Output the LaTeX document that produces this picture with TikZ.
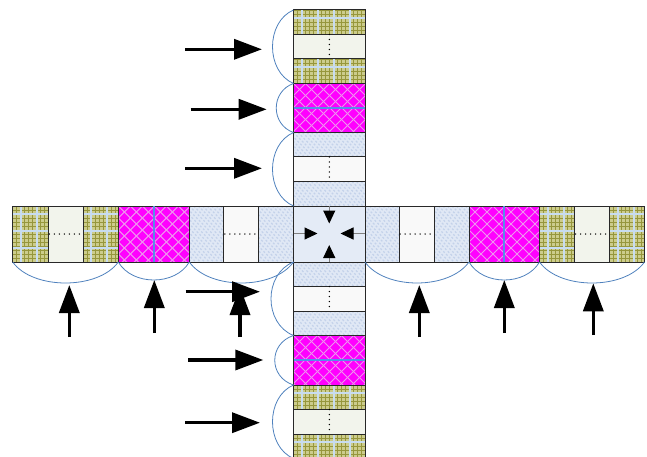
\documentclass[tikz,border=0pt]{standalone}
\usetikzlibrary{arrows.meta}
\definecolor{plaidbase}{RGB}{204,204,140}
\definecolor{plaiddark}{RGB}{150,150,60}
\definecolor{plaidlight}{RGB}{200,220,240}
\definecolor{magbase}{RGB}{255,0,255}
\definecolor{magline}{RGB}{238,150,238}
\definecolor{bluebase}{RGB}{224,232,245}
\definecolor{blueline}{RGB}{196,210,234}
\definecolor{dotfillA}{RGB}{242,244,236}
\definecolor{dotfillB}{RGB}{249,249,249}
\definecolor{centerfill}{RGB}{228,235,246}
\definecolor{bracecol}{RGB}{79,129,189}
\definecolor{midline}{RGB}{90,140,230}
\definecolor{edgecol}{RGB}{40,40,40}
\newcommand\mypatplaid{%
  \foreach \k in {0,...,20} {
    \draw[plaiddark,line width=0.5pt] ([xshift=\k*4pt]path picture bounding box.north west) -- ([xshift=\k*4pt]path picture bounding box.south west);
    \draw[plaiddark,line width=0.5pt] ([yshift=-\k*4pt]path picture bounding box.north west) -- ([yshift=-\k*4pt]path picture bounding box.north east);
  }
  \foreach \k in {0,...,4} {
    \draw[plaidlight,line width=2pt] ([xshift=8pt+\k*16pt]path picture bounding box.north west) -- ([xshift=8pt+\k*16pt]path picture bounding box.south west);
    \draw[plaidlight,line width=2pt] ([yshift=-8pt-\k*17pt]path picture bounding box.north west) -- ([yshift=-8pt-\k*17pt]path picture bounding box.north east);
  }}
\newcommand\mypatmag{%
  \foreach \k in {-7,...,13} {
    \draw[magline,line width=1pt] ([xshift=\k*12pt]path picture bounding box.north west) -- ++(90pt,-90pt);
    \draw[magline,line width=1pt] ([xshift=\k*12pt]path picture bounding box.north west) -- ++(-90pt,-90pt);
  }}
\newcommand\mypatblue{%
  \foreach \k in {-14,...,34} {
    \draw[blueline,line width=1.2pt,dash pattern=on 2pt off 2pt] ([xshift=\k*4.5pt]path picture bounding box.north west) -- ++(90pt,-90pt);
  }}
\tikzset{
  cellbase/.style={draw=edgecol,line width=1pt,inner sep=0pt,outer sep=0pt,anchor=north west},
  hc/.style={cellbase,minimum height=56pt},
  vc/.style={cellbase,minimum width=71.5pt,minimum height=24.5pt},
  plaid/.style={fill=plaidbase,path picture={\mypatplaid}},
  magcell/.style={fill=magbase,path picture={\mypatmag}},
  bluecell/.style={fill=bluebase,path picture={\mypatblue}},
  dotA/.style={fill=dotfillA},
  dotB/.style={fill=dotfillB},
  centercell/.style={fill=centerfill},
  dotline/.style={line width=1.5pt,line cap=round,dash pattern=on 0pt off 5pt,black},
  brace/.style={draw=bracecol,line width=0.8pt},
  bigarrow/.style={line width=3.5pt,-{Triangle[length=28pt,width=20pt]}},
  smallarrow/.style={draw=gray,line width=1pt,-{Triangle[length=13pt,width=12pt,fill=black,color=black]}},
  magmid/.style={draw=midline,line width=1.6pt}
}
\begin{document}
\begin{tikzpicture}[x=1pt,y=-1pt]
\useasboundingbox (0,0) rectangle (647,457);
% horizontal row
\node[hc,plaid,minimum width=35.6pt] (hL1) at (12.7,206) {};
\node[hc,dotA,minimum width=35pt] (hL2) at (48.3,206) {};
\node[hc,plaid,minimum width=35pt] (hL3) at (83.3,206) {};
\node[hc,magcell,minimum width=71pt] (hL4) at (118.3,206) {};
\node[hc,bluecell,minimum width=34.5pt] (hL5) at (189.3,206) {};
\node[hc,dotB,minimum width=35pt] (hL6) at (223.8,206) {};
\node[hc,bluecell,minimum width=34.7pt] (hL7) at (258.8,206) {};
\node[hc,centercell,minimum width=71.5pt] (C) at (293.5,206) {};
\node[hc,bluecell,minimum width=34pt] (hR1) at (365,206) {};
\node[hc,dotB,minimum width=35pt] (hR2) at (399,206) {};
\node[hc,bluecell,minimum width=35pt] (hR3) at (434,206) {};
\node[hc,magcell,minimum width=70.5pt] (hR4) at (469,206) {};
\node[hc,plaid,minimum width=35pt] (hR5) at (539.5,206) {};
\node[hc,dotA,minimum width=35pt] (hR6) at (574.5,206) {};
\node[hc,plaid,minimum width=35pt] (hR7) at (609.5,206) {};
% top column
\node[vc,plaid] (vT1) at (293.5,10) {};
\node[vc,dotA] (vT2) at (293.5,34.5) {};
\node[vc,plaid] (vT3) at (293.5,59) {};
\node[vc,magcell,minimum height=49pt] (vT4) at (293.5,83.5) {};
\node[vc,bluecell] (vT5) at (293.5,132.5) {};
\node[vc,dotB] (vT6) at (293.5,157) {};
\node[vc,bluecell] (vT7) at (293.5,181.5) {};
% bottom column
\node[vc,bluecell] (vB1) at (293.5,262) {};
\node[vc,dotB] (vB2) at (293.5,286.5) {};
\node[vc,bluecell] (vB3) at (293.5,311) {};
\node[vc,magcell,minimum height=49.5pt] (vB4) at (293.5,335.5) {};
\node[vc,plaid] (vB5) at (293.5,385) {};
\node[vc,dotA] (vB6) at (293.5,409.5) {};
\node[vc,plaid] (vB7) at (293.5,434) {};
% magenta mid lines
\draw[magmid] (hL4.north) -- (hL4.south);
\draw[magmid] (hR4.north) -- (hR4.south);
\draw[magmid] (vT4.west) -- (vT4.east);
\draw[magmid] (vB4.west) -- (vB4.east);
% dotted lines
\foreach \n in {hL2,hL6,hR2,hR6} {\draw[dotline] ([xshift=1pt]\n.west) -- (\n.east);}
\foreach \n in {vT2,vT6,vB2,vB6} {\draw[dotline] (\n.north) -- (\n.south);}
% braces row
\draw[brace] (hL1.south west) .. controls +(20,28) and +(-20,28) .. (hL3.south east);
\draw[brace] (hL4.south west) .. controls +(14,24) and +(-14,24) .. (hL4.south east);
\draw[brace] (hL5.south west) .. controls +(20,28) and +(-20,28) .. (hL7.south east);
\draw[brace] (hR1.south west) .. controls +(20,28) and +(-20,28) .. (hR3.south east);
\draw[brace] (hR4.south west) .. controls +(14,24) and +(-14,24) .. (hR4.south east);
\draw[brace] (hR5.south west) .. controls +(20,28) and +(-20,28) .. (hR7.south east);
% braces columns
\draw[brace] (vT1.north west) .. controls +(-28,12) and +(-28,-12) .. (vT3.south west);
\draw[brace] (vT4.north west) .. controls +(-23,8) and +(-23,-8) .. (vT4.south west);
\draw[brace] (vT5.north west) .. controls +(-28,12) and +(-28,-12) .. (vT7.south west);
\draw[brace] (vB1.north west) .. controls +(-30,12) and +(-30,-12) .. (vB3.south west);
\draw[brace] (vB4.north west) .. controls +(-25,8) and +(-25,-8) .. (vB4.south west);
\draw[brace] (vB5.north west) .. controls +(-28,12) and +(-28,-12) .. (vB7.south west);
% center arrows
\coordinate (cn) at (329.25,223.5);
\coordinate (cs) at (329.25,245);
\coordinate (cw) at (317.5,233.5);
\coordinate (ce) at (340.5,233.5);
\draw[smallarrow] (C.north) -- (cn);
\draw[smallarrow] (C.south) -- (cs);
\draw[smallarrow] (C.west |- cw) -- (cw);
\draw[smallarrow] (C.east |- ce) -- (ce);
% left horizontal arrows
\coordinate (a1s) at (185,49.3);   \coordinate (a1e) at (262,49.3);
\coordinate (a2s) at (190.7,109.3); \coordinate (a2e) at (266.7,109.3);
\coordinate (a3s) at (185,168.3);  \coordinate (a3e) at (262,168.3);
\coordinate (a4s) at (185.7,291.7); \coordinate (a4e) at (260,291.7);
\coordinate (a5s) at (188.3,360);  \coordinate (a5e) at (263.3,360);
\coordinate (a6s) at (185,422.7);  \coordinate (a6e) at (260,422.7);
\foreach \i in {1,...,6} {\draw[bigarrow] (a\i s) -- (a\i e);}
% up arrows
\coordinate (u1s) at (69.3,337);  \coordinate (u1e) at (69.3,285);
\coordinate (u2s) at (154.3,333); \coordinate (u2e) at (154.3,280);
\coordinate (u3s) at (240,337);   \coordinate (u3e) at (240,287);
\coordinate (u4s) at (419.3,337); \coordinate (u4e) at (419.3,285);
\coordinate (u5s) at (504.3,333); \coordinate (u5e) at (504.3,280);
\coordinate (u6s) at (593.3,335); \coordinate (u6e) at (593.3,283.3);
\foreach \i in {1,...,6} {\draw[bigarrow] (u\i s) -- (u\i e);}
\end{tikzpicture}
\end{document}
